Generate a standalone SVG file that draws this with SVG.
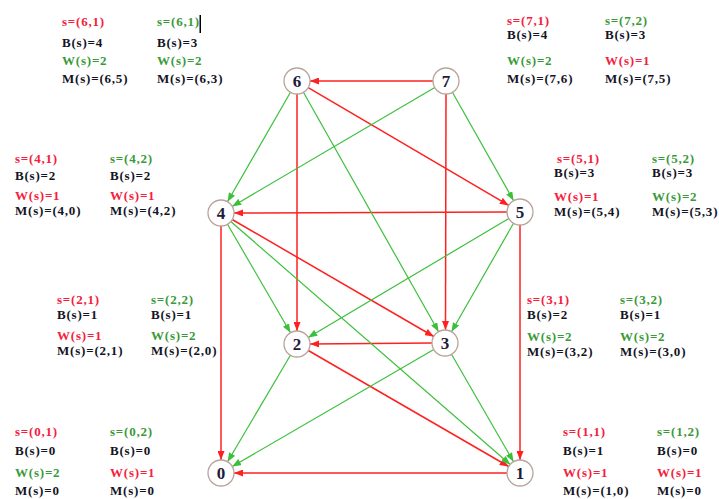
<svg xmlns="http://www.w3.org/2000/svg" width="719" height="499" viewBox="0 0 719 499">
  <style>
    .lbl { font-family: "Liberation Serif", "Times New Roman", serif; font-weight: bold; font-size: 13px; letter-spacing: 0.8px; }
    .r { fill: #f5203c; }
    .g { fill: #3a9a3a; }
    .k { fill: #141424; }
    .node circle { fill: #ffffff; stroke: #b8a49c; stroke-width: 1.3; }
    .node text { font-family: "Liberation Serif", "Times New Roman", serif; font-weight: bold; font-size: 17px; fill: #1c1c3c; text-anchor: middle; }
    .er { stroke: #ff2020; stroke-width: 1.5; fill: none; marker-end: url(#ahr); }
    .eg { stroke: #3cc03c; stroke-width: 1.2; fill: none; marker-end: url(#ahg); }
  </style>
  <defs>
    <marker id="ahr" viewBox="0 0 9 7" refX="9" refY="3.5" markerWidth="9" markerHeight="7" markerUnits="userSpaceOnUse" orient="auto">
      <path d="M0,0 L9,3.5 L0,7 z" fill="#ff2020"/>
    </marker>
    <marker id="ahg" viewBox="0 0 9 7" refX="9" refY="3.5" markerWidth="9" markerHeight="7" markerUnits="userSpaceOnUse" orient="auto">
      <path d="M0,0 L9,3.5 L0,7 z" fill="#3cc03c"/>
    </marker>
  </defs>
  <rect width="719" height="499" fill="#ffffff"/>

  <!-- connectors -->
  <g id="edges">
    <!-- red -->
    <line class="er" x1="433" y1="81" x2="310" y2="81"/>
    <line class="er" x1="308.2" y1="87.6" x2="508.8" y2="205.4"/>
    <line class="er" x1="297" y1="94" x2="297" y2="331"/>
    <line class="er" x1="446" y1="94" x2="445.5" y2="330"/>
    <line class="er" x1="507" y1="212" x2="234" y2="213"/>
    <line class="er" x1="232.2" y1="219.5" x2="433.8" y2="336.5"/>
    <line class="er" x1="221" y1="226" x2="221" y2="460"/>
    <line class="er" x1="520" y1="225" x2="520" y2="460"/>
    <line class="er" x1="432" y1="343" x2="310" y2="344"/>
    <line class="er" x1="308.3" y1="350.5" x2="508.7" y2="466.5"/>
    <line class="er" x1="507" y1="473" x2="234" y2="473"/>
    <!-- green -->
    <line class="eg" x1="290.5" y1="92.3" x2="227.5" y2="201.7"/>
    <line class="eg" x1="303.4" y1="92.3" x2="438.6" y2="331.7"/>
    <line class="eg" x1="434.8" y1="87.6" x2="232.2" y2="206.4"/>
    <line class="eg" x1="452.4" y1="92.3" x2="513.6" y2="200.7"/>
    <line class="eg" x1="227.5" y1="224.2" x2="290.5" y2="332.8"/>
    <line class="eg" x1="230.8" y1="221.5" x2="510.2" y2="464.5"/>
    <line class="eg" x1="508.8" y1="218.6" x2="308.2" y2="337.4"/>
    <line class="eg" x1="513.5" y1="223.3" x2="451.5" y2="331.7"/>
    <line class="eg" x1="290.4" y1="355.2" x2="227.6" y2="461.8"/>
    <line class="eg" x1="433.8" y1="349.5" x2="232.2" y2="466.5"/>
    <line class="eg" x1="451.5" y1="354.3" x2="513.5" y2="461.7"/>
  </g>

  <!-- nodes -->
  <g id="n0" class="node"><circle cx="221" cy="473" r="13"/><text x="221" y="479">0</text></g>
  <g id="n1" class="node"><circle cx="520" cy="473" r="13"/><text x="520" y="479">1</text></g>
  <g id="n2" class="node"><circle cx="297" cy="344" r="13"/><text x="297" y="350">2</text></g>
  <g id="n3" class="node"><circle cx="445" cy="343" r="13"/><text x="445" y="349">3</text></g>
  <g id="n4" class="node"><circle cx="221" cy="213" r="13"/><text x="221" y="219">4</text></g>
  <g id="n5" class="node"><circle cx="520" cy="212" r="13"/><text x="520" y="218">5</text></g>
  <g id="n6" class="node"><circle cx="297" cy="81" r="13"/><text x="297" y="87">6</text></g>
  <g id="n7" class="node"><circle cx="446" cy="81" r="13"/><text x="446" y="87">7</text></g>

  <!-- state tables -->
  <g id="lbl6" class="lbl">
    <text class="r" x="62" y="26">s=(6,1)</text>
    <text class="k" x="62" y="47">B(s)=4</text>
    <text class="g" x="62" y="65">W(s)=2</text>
    <text class="k" x="62" y="83">M(s)=(6,5)</text>
    <text class="g" x="157" y="26">s=(6,1)</text>
    <text class="k" x="157" y="47">B(s)=3</text>
    <text class="g" x="157" y="65">W(s)=2</text>
    <text class="k" x="157" y="83">M(s)=(6,3)</text>
    <rect x="199.5" y="15" width="1.5" height="18" fill="#000000"/>
  </g>
  <g id="lbl7" class="lbl">
    <text class="r" x="507" y="25">s=(7,1)</text>
    <text class="k" x="507" y="39">B(s)=4</text>
    <text class="g" x="507" y="65">W(s)=2</text>
    <text class="k" x="507" y="83">M(s)=(7,6)</text>
    <text class="g" x="605" y="25">s=(7,2)</text>
    <text class="k" x="605" y="39">B(s)=3</text>
    <text class="r" x="605" y="65">W(s)=1</text>
    <text class="k" x="605" y="83">M(s)=(7,5)</text>
  </g>
  <g id="lbl4" class="lbl">
    <text class="r" x="15" y="163">s=(4,1)</text>
    <text class="k" x="15" y="180">B(s)=2</text>
    <text class="r" x="15" y="200">W(s)=1</text>
    <text class="k" x="15" y="215">M(s)=(4,0)</text>
    <text class="g" x="110" y="163">s=(4,2)</text>
    <text class="k" x="110" y="180">B(s)=2</text>
    <text class="r" x="110" y="200">W(s)=1</text>
    <text class="k" x="110" y="215">M(s)=(4,2)</text>
  </g>
  <g id="lbl5" class="lbl">
    <text class="r" x="557" y="163">s=(5,1)</text>
    <text class="k" x="554" y="177">B(s)=3</text>
    <text class="r" x="554" y="201">W(s)=1</text>
    <text class="k" x="554" y="216">M(s)=(5,4)</text>
    <text class="g" x="652" y="163">s=(5,2)</text>
    <text class="k" x="652" y="177">B(s)=3</text>
    <text class="g" x="652" y="201">W(s)=2</text>
    <text class="k" x="652" y="216">M(s)=(5,3)</text>
  </g>
  <g id="lbl2" class="lbl">
    <text class="r" x="57" y="304">s=(2,1)</text>
    <text class="k" x="57" y="319">B(s)=1</text>
    <text class="r" x="57" y="340">W(s)=1</text>
    <text class="k" x="57" y="355">M(s)=(2,1)</text>
    <text class="g" x="151" y="304">s=(2,2)</text>
    <text class="k" x="151" y="319">B(s)=1</text>
    <text class="g" x="151" y="340">W(s)=2</text>
    <text class="k" x="151" y="355">M(s)=(2,0)</text>
  </g>
  <g id="lbl3" class="lbl">
    <text class="r" x="527" y="304">s=(3,1)</text>
    <text class="k" x="527" y="319">B(s)=2</text>
    <text class="g" x="527" y="341">W(s)=2</text>
    <text class="k" x="527" y="356">M(s)=(3,2)</text>
    <text class="g" x="620" y="304">s=(3,2)</text>
    <text class="k" x="620" y="319">B(s)=1</text>
    <text class="g" x="620" y="341">W(s)=2</text>
    <text class="k" x="620" y="356">M(s)=(3,0)</text>
  </g>
  <g id="lbl0" class="lbl">
    <text class="r" x="15" y="436">s=(0,1)</text>
    <text class="k" x="15" y="455">B(s)=0</text>
    <text class="g" x="15" y="477">W(s)=2</text>
    <text class="k" x="15" y="495">M(s)=0</text>
    <text class="g" x="110" y="436">s=(0,2)</text>
    <text class="k" x="110" y="455">B(s)=0</text>
    <text class="r" x="110" y="477">W(s)=1</text>
    <text class="k" x="110" y="495">M(s)=0</text>
  </g>
  <g id="lbl1" class="lbl">
    <text class="r" x="563" y="436">s=(1,1)</text>
    <text class="k" x="563" y="455">B(s)=1</text>
    <text class="r" x="563" y="477">W(s)=1</text>
    <text class="k" x="563" y="495">M(s)=(1,0)</text>
    <text class="g" x="657" y="436">s=(1,2)</text>
    <text class="k" x="657" y="455">B(s)=0</text>
    <text class="r" x="657" y="477">W(s)=1</text>
    <text class="k" x="657" y="495">M(s)=0</text>
  </g>
</svg>
